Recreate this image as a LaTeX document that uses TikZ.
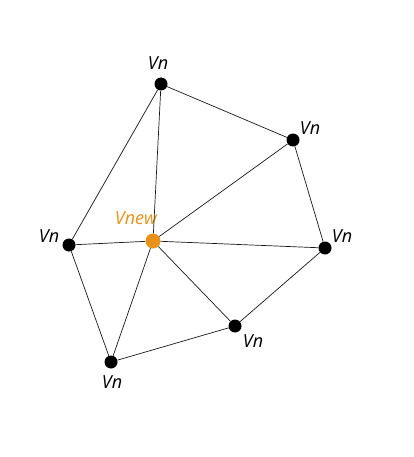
\documentclass[tikz,border=0pt]{standalone}
\usepackage{fontspec}
\setmainfont{Open Sans}
\definecolor{vorange}{RGB}{232,146,26}
\begin{document}
\begin{tikzpicture}[x=1pt,y=-1pt,
  vert/.style={circle,fill=black,inner sep=0pt,minimum size=13pt},
  vnew/.style={circle,fill=vorange,inner sep=0pt,minimum size=15pt},
  lbl/.style={font=\fontsize{18}{18}\selectfont\itshape,inner sep=0pt},
  edge/.style={draw=black!90,line width=0.7pt}]
\useasboundingbox (0,0) rectangle (413,457);
\node[vert] (t) at (161,84) {};
\node[vert] (ur) at (293,140) {};
\node[vert] (r) at (325,248) {};
\node[vert] (br) at (235,326) {};
\node[vert] (b) at (111,362) {};
\node[vert] (l) at (69,245) {};
\node[vnew] (c) at (153,241) {};
\node[lbl] (lt) at (158,63) {Vn};
\node[lbl] (lur) at (310,128) {Vn};
\node[lbl] (lr) at (342,236) {Vn};
\node[lbl] (lbr) at (253,341) {Vn};
\node[lbl] (lb) at (112,382) {Vn};
\node[lbl] (ll) at (49,236) {Vn};
\node[lbl,text=vorange] (lc) at (136,218) {Vnew};
\foreach \a/\b in {t/ur,ur/r,r/br,br/b,b/l,l/t,c/t,c/ur,c/r,c/br,c/b,c/l}
  \draw[edge] (\a) -- (\b);
\end{tikzpicture}
\end{document}
